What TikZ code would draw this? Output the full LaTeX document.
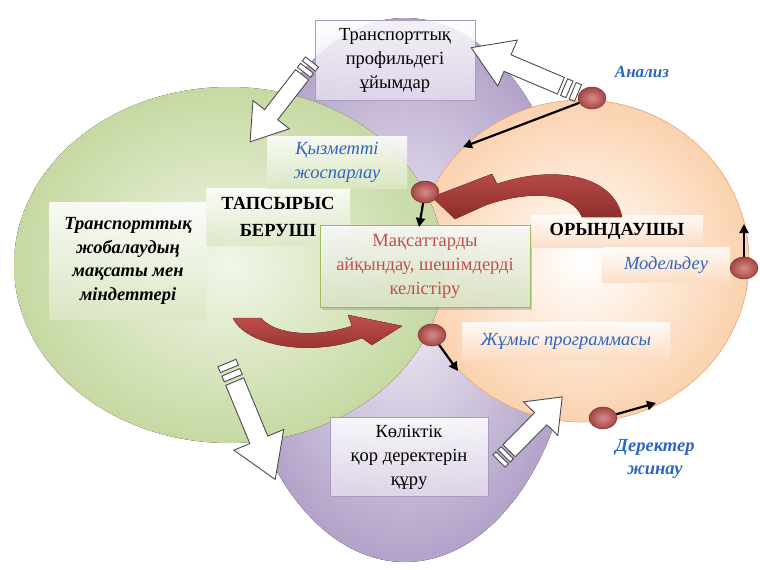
\documentclass[tikz,border=0pt]{standalone}
\usepackage{fontspec}
\setmainfont{Liberation Serif}
\usetikzlibrary{positioning,shapes.geometric,arrows.meta,shadows}

\definecolor{greenedge}{HTML}{C6D9A2}
\definecolor{greenmid}{HTML}{F1F6E8}
\definecolor{greentint}{HTML}{DCE8C6}
\definecolor{greenline}{HTML}{9BBB59}
\definecolor{peachedge}{HTML}{FBD2AE}
\definecolor{peachline}{HTML}{F4B183}
\definecolor{peachtint}{HTML}{FBDCC2}
\definecolor{lilacedge}{HTML}{B3A2C9}
\definecolor{lilacmid}{HTML}{F2EFF6}
\definecolor{lilacbox}{HTML}{E2DAEC}
\definecolor{boxline}{HTML}{A99BC0}
\definecolor{pinred}{HTML}{C0504D}
\definecolor{swooplight}{HTML}{C0504D}
\definecolor{swoopdark}{HTML}{8C2D2A}
\definecolor{textblue}{HTML}{2F65BE}
\definecolor{textred}{HTML}{C0504D}

\tikzset{
  bigfont/.style={font=\fontsize{18.5}{24}\selectfont},
  tagbox/.style={bigfont, inner sep=0pt, align=center, fill opacity=0.85, text opacity=1},
  softbox/.style={tagbox, top color=white, bottom color=#1},
  framebox/.style={tagbox, draw=boxline, line width=0.8pt, top color=white, bottom color=lilacbox},
  bluetext/.style={text=textblue, font=\fontsize{18.5}{24}\selectfont\itshape},
  pin/.style={ellipse, minimum width=28pt, minimum height=22pt, inner sep=0pt, draw=pinred!60!black, line width=0.4pt,
    inner color=pinred!65!white, outer color=pinred!85!black},
  pinarrow/.style={line width=2.2pt, -{Triangle[length=9pt,width=9pt]}},
  swoop/.style={top color=swooplight, bottom color=swoopdark, draw=swoopdark, line width=0.3pt},
  hollowline/.style={draw=black!70, fill=white, line width=0.9pt, line join=miter},
  hollowarrow/.pic={
    \draw[hollowline] (0.16,-0.18) -- (0.66,-0.18) -- (0.66,-0.5) -- (1,0) -- (0.66,0.5) -- (0.66,0.18) -- (0.16,0.18) -- cycle;
    \draw[hollowline] (0,-0.18) rectangle (0.05,0.18);
    \draw[hollowline] (0.08,-0.18) rectangle (0.13,0.18);
  }
}

\begin{document}
\begin{tikzpicture}[x=1pt,y=-1pt]
\useasboundingbox (0,0) rectangle (760,570);

% the three fields
\fill[inner color=lilacmid, outer color=lilacedge] (405,290) ellipse [x radius=172, y radius=272];
\filldraw[draw=peachline, line width=0.6pt, inner color=white, outer color=peachedge] (582,261) ellipse [x radius=167, y radius=161];
\fill[inner color=greenmid, outer color=greenedge] (229,265) ellipse [x radius=215, y radius=178];

% text boxes
\node[framebox, minimum width=160pt, minimum height=80pt] (orgs) at (395,60) {Транспорттық\\профильдегі\\ұйымдар};
\node[softbox=greentint, minimum width=157pt, minimum height=117pt, font=\fontsize{18.5}{23.5}\selectfont\bfseries\itshape] (goals) at (128,261) {Транспорттық\\жобалаудың\\мақсаты мен\\міндеттері};
\node[softbox=greentint, minimum width=143pt, minimum height=57pt, font=\fontsize{18.5}{27}\selectfont\bfseries] (client) at (278,217) {ТАПСЫРЫС\\БЕРУШІ};
\node[softbox=greentint, minimum width=140pt, minimum height=52pt, bluetext] (plan) at (337,162) {Қызметті\\жоспарлау};
\node[softbox=greentint, draw=greenline, line width=0.8pt, minimum width=210pt, minimum height=82pt, text=textred,
      drop shadow={shadow xshift=2pt, shadow yshift=-3pt, opacity=0.35}] (aims) at (425,266) {Мақсаттарды\\айқындау, шешімдерді\\келістіру};
\node[softbox=peachtint, minimum width=171pt, minimum height=32pt, font=\fontsize{18.5}{24}\selectfont\bfseries] (doer) at (617,231) {ОРЫНДАУШЫ};
\node[softbox=peachtint, minimum width=127pt, minimum height=35pt, bluetext] (model) at (666,265) {Модельдеу};
\node[softbox=peachtint, minimum width=208pt, minimum height=38pt, bluetext] (work) at (566,341) {Жұмыс программасы};
\node[framebox, minimum width=158pt, minimum height=79pt] (base) at (409,457) {Көліктік\\қор деректерін\\құру};

% free labels
\node[bluetext, font=\fontsize{17}{22}\selectfont\bfseries\itshape] (analysis) at (642,72) {Анализ};
\node[bluetext, align=center, font=\fontsize{18.5}{23}\selectfont\bfseries\itshape] (gather) at (655,459) {Деректер\\жинау};

% red swoops
\filldraw[swoop] (622,217) .. controls (614,176) and (556,164) .. (497,184) -- (492,174) -- (432,197) -- (455,219) -- (486,205) .. controls (530,190) and (572,192) .. (582,217) -- cycle;
\filldraw[swoop] (233,318) .. controls (245,345) and (310,358) .. (362,338) -- (372,345) -- (402,326) -- (348,315) -- (352,326) .. controls (315,338) and (275,335) .. (261,318) -- cycle;

% striped block arrows
\pic[rotate=-127.8, xscale=101, yscale=46] at (312,62) {hollowarrow};
\pic[rotate=157, xscale=116, yscale=50] at (578,93) {hollowarrow};
\pic[rotate=-67.5, xscale=126, yscale=54] at (227,363) {hollowarrow};
\pic[rotate=45.4, xscale=90, yscale=48] at (499,461) {hollowarrow};

% pins and their arrows
\node[pin] (p1) at (592,98) {};
\node[pin] (p2) at (425,192) {};
\node[pin] (p3) at (744,268) {};
\node[pin] (p4) at (432,335) {};
\node[pin] (p5) at (603,418) {};
\coordinate (a1) at (463,147);
\coordinate (a2) at (419,227);
\coordinate (a3) at (744,224);
\coordinate (a4) at (458,371);
\coordinate (a5) at (656,403);
\draw[pinarrow] (p1) -- (a1);
\draw[pinarrow] (p2) -- (a2);
\draw[pinarrow] (p3) -- (a3);
\draw[pinarrow] (p4) -- (a4);
\draw[pinarrow] (p5) -- (a5);

\end{tikzpicture}
\end{document}
